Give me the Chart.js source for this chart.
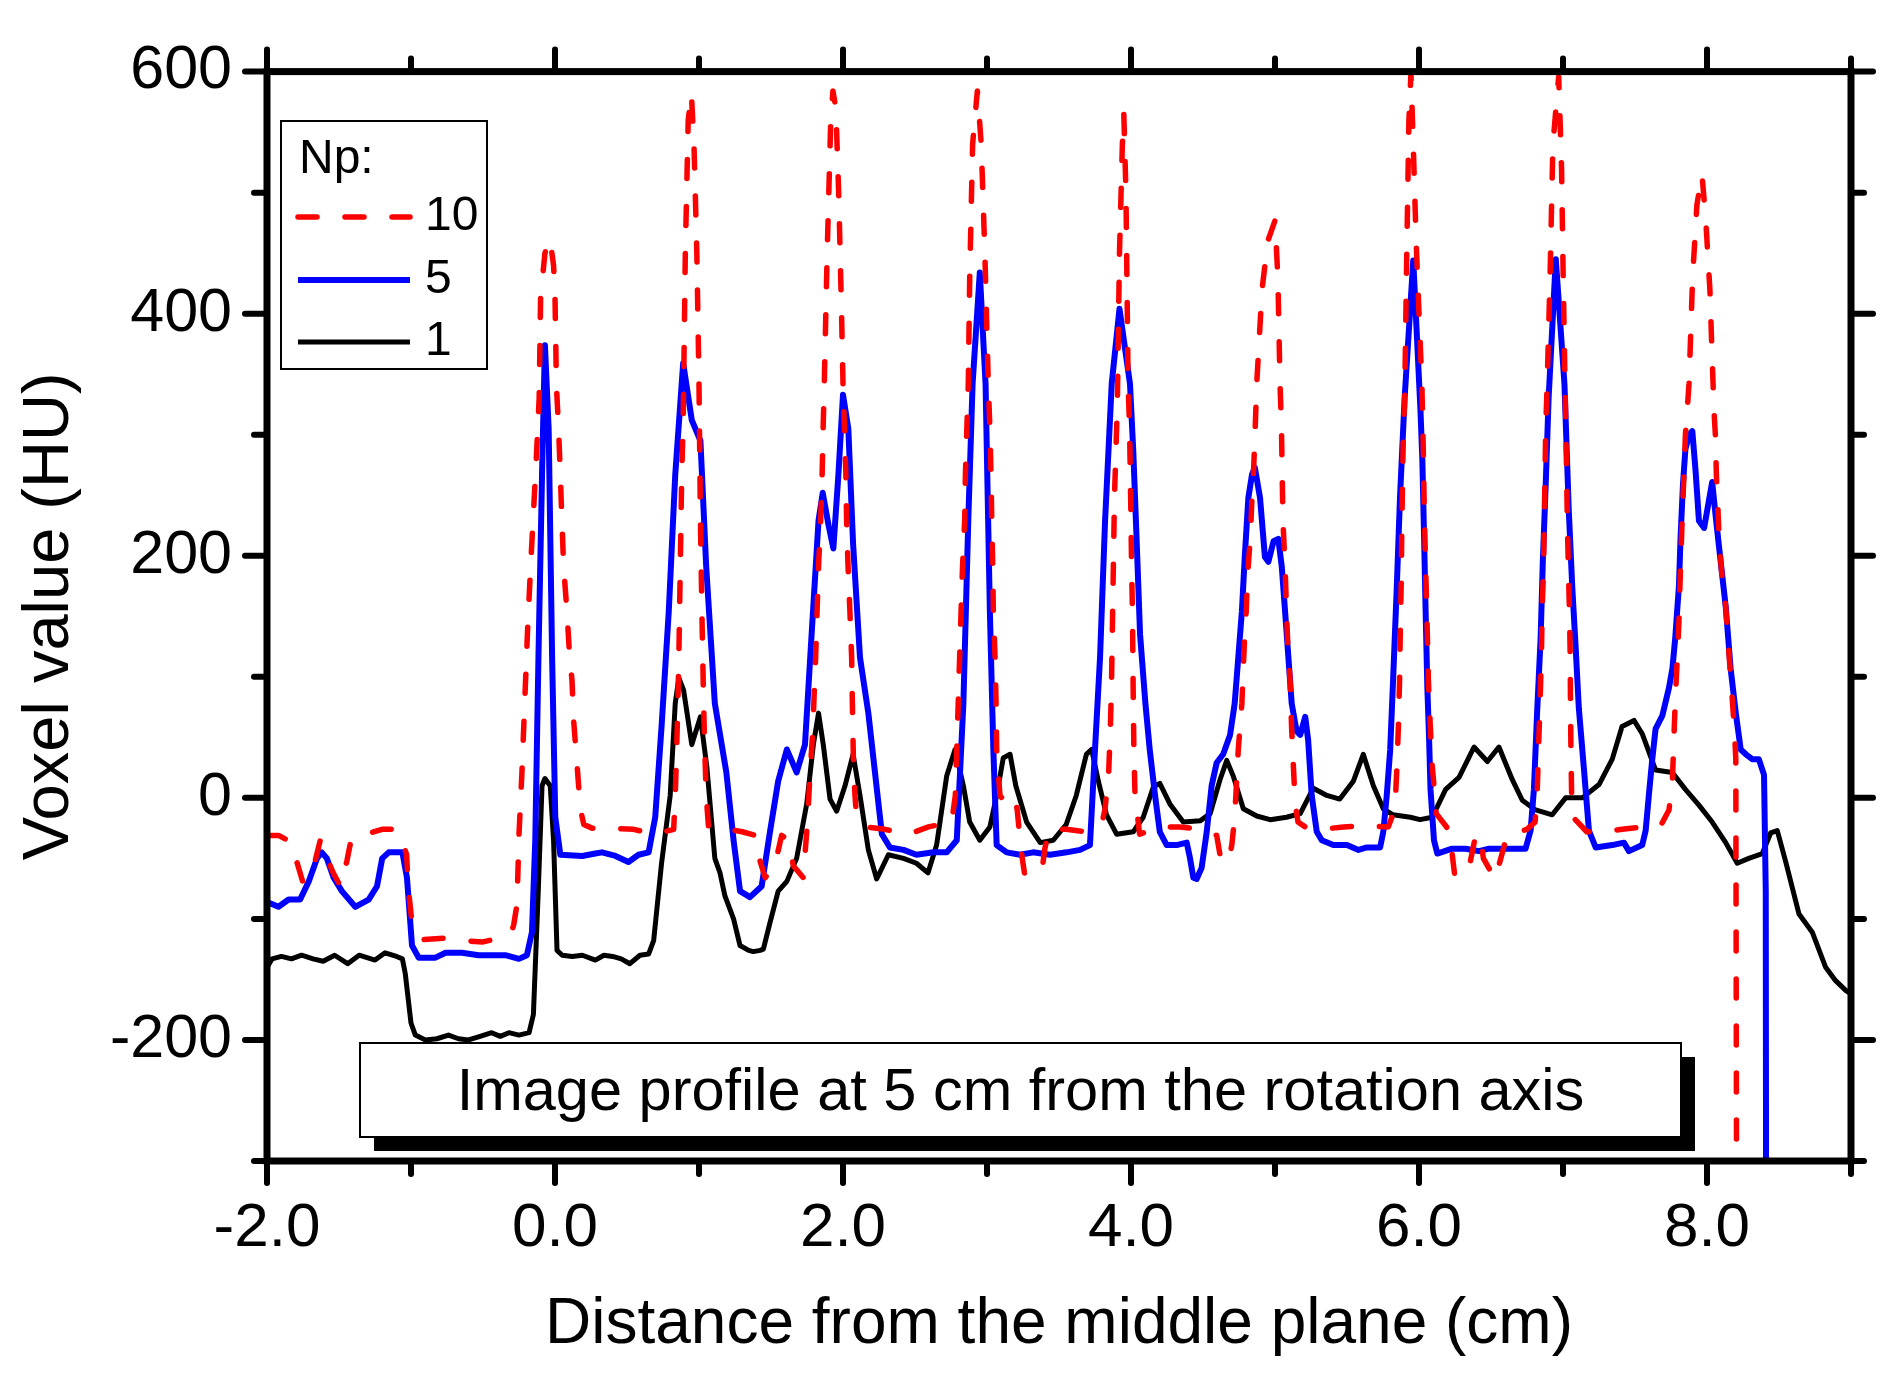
<!DOCTYPE html>
<html>
<head>
<meta charset="utf-8">
<title>Image profile at 5 cm from the rotation axis</title>
<script src="https://cdn.jsdelivr.net/npm/chart.js@4/dist/chart.umd.min.js"></script>
<style>
  html, body { margin: 0; padding: 0; background: #ffffff; }
  #wrap { width: 1901px; height: 1380px; position: relative; }
  canvas { display: block; }
</style>
</head>
<body>
<div id="wrap"><canvas id="chart" width="1901" height="1380"></canvas></div>
<script>
// ---------------- data ----------------
const xTitle = 'Distance from the middle plane (cm)';
const yTitle = 'Voxel value (HU)';
const boxText = 'Image profile at 5 cm from the rotation axis';
const legendTitle = 'Np:';
const seriesNames = ['10', '5', '1'];

const xTickValues = [-2, 0, 2, 4, 6, 8];
const xTickLabels = ['-2.0', '0.0', '2.0', '4.0', '6.0', '8.0'];
const xMinorTicks = [-1, 1, 3, 5, 7, 9];
const yTickValues = [-200, 0, 200, 400, 600];
const yTickLabels = ['-200', '0', '200', '400', '600'];
const yMinorTicks = [-300, -100, 100, 300, 500];

// Np = 10 (red dashed)
const np10X = [-2.0,-1.92,-1.84,-1.8,-1.75,-1.67,-1.63,-1.6,-1.54,-1.49,-1.445,-1.42,-1.38,-1.34,-1.2,-1.12,-1.075,-1.03,-1.02,-0.99,-0.91,-0.77,-0.635,-0.5,-0.357,-0.3,-0.287,-0.264,-0.25,-0.23,-0.21,-0.19,-0.17,-0.15,-0.13,-0.11,-0.1,-0.07,-0.035,-0.01,0.0,0.01,0.025,0.037,0.048,0.06,0.083,0.1,0.118,0.13,0.152,0.176,0.2,0.257,0.384,0.546,0.685,0.76,0.824,0.835,0.845,0.853,0.86,0.865,0.87,0.875,0.88,0.89,0.905,0.925,0.947,0.965,0.985,1.0,1.01,1.02,1.032,1.04,1.05,1.066,1.09,1.2,1.3,1.39,1.41,1.46,1.53,1.574,1.62,1.655,1.725,1.736,1.748,1.76,1.77,1.79,1.8,1.81,1.82,1.83,1.845,1.855,1.862,1.87,1.89,1.915,1.93,1.95,1.97,1.99,2.0,2.01,2.02,2.025,2.035,2.048,2.06,2.065,2.072,2.083,2.09,2.153,2.29,2.454,2.593,2.755,2.78,2.79,2.8,2.81,2.82,2.83,2.845,2.85,2.86,2.87,2.88,2.9,2.933,2.96,2.985,3.009,3.02,3.028,3.033,3.04,3.044,3.056,3.063,3.067,3.09,3.11,3.19,3.21,3.235,3.26,3.38,3.4,3.43,3.55,3.69,3.8,3.82,3.845,3.857,3.865,3.87,3.875,3.88,3.885,3.895,3.905,3.92,3.94,3.95,3.965,3.98,3.99,3.995,4.0,4.004,4.01,4.013,4.016,4.02,4.028,4.06,4.2,4.34,4.48,4.595,4.618,4.676,4.7,4.72,4.73,4.745,4.76,4.77,4.78,4.79,4.8,4.81,4.83,4.84,4.85,4.86,4.873,4.91,4.95,5.0,5.02,5.035,5.045,5.05,5.055,5.07,5.08,5.09,5.105,5.115,5.125,5.14,5.16,5.21,5.325,5.475,5.625,5.787,5.833,5.845,5.857,5.865,5.87,5.877,5.88,5.885,5.89,5.9,5.915,5.93,5.944,5.96,5.98,6.0,6.02,6.03,6.035,6.042,6.05,6.058,6.065,6.077,6.09,6.11,6.12,6.204,6.227,6.25,6.354,6.39,6.425,6.447,6.528,6.575,6.61,6.748,6.806,6.82,6.83,6.84,6.85,6.855,6.865,6.87,6.875,6.88,6.89,6.91,6.93,6.97,6.99,7.0,7.014,7.02,7.025,7.03,7.037,7.045,7.05,7.052,7.055,7.06,7.07,7.165,7.28,7.41,7.55,7.678,7.736,7.76,7.77,7.78,7.794,7.805,7.812,7.82,7.83,7.84,7.85,7.863,7.875,7.9,7.93,7.965,7.99,8.02,8.048,8.058,8.065,8.075,8.083,8.095,8.11,8.13,8.14,8.152,8.165,8.175,8.19,8.2,8.205];
const np10Y = [-31,-31,-36,-50,-70,-54,-35,-45,-62,-73,-52,-37,-31,-31,-26,-26,-30,-47,-73,-107,-117,-116,-118,-119,-115,-110,-105,-88,-30,20,80,140,190,235,280,330,414,450,462,440,414,340,305,267,229,191,154,120,97,63,29,-9,-22,-25,-25,-26,-30,-28,-26,2,40,78,116,154,191,229,267,310,450,560,582,540,450,342,229,154,78,40,2,-24,-24,-26,-28,-31,-47,-66,-54,-31,-35,-56,-66,-47,-28,-5,18,55,86,116,154,191,229,267,305,342,450,560,584,570,500,400,342,305,267,229,191,154,116,78,33,2,-9,-24,-26,-30,-24,-20,2,40,78,116,154,191,229,267,305,342,430,540,584,540,450,342,305,267,229,191,154,116,78,40,2,-1,3,-10,-42,-62,-62,-43,-26,-26,-28,-20,-9,21,59,97,135,172,210,248,286,324,450,540,565,500,342,305,267,229,191,154,116,78,40,2,-30,-24,-24,-26,-31,-47,-54,-39,-16,6,40,63,78,108,135,154,184,218,248,267,297,342,420,460,477,430,342,305,267,229,191,154,123,97,59,33,-5,-20,-24,-26,-24,-23,-24,-9,21,59,97,138,180,218,256,293,327,450,560,599,540,460,400,342,286,248,210,172,135,97,63,29,2,-13,-26,-43,-66,-54,-33,-30,-50,-67,-47,-31,-26,-20,2,40,78,116,154,191,229,267,305,342,430,540,596,520,440,342,305,267,229,191,154,116,78,40,2,-16,-28,-28,-26,-24,-23,-10,15,49,82,116,145,175,204,238,267,300,321,342,430,490,515,480,420,321,300,267,242,217,196,175,158,141,120,99,82,57,32,-300];

// Np = 5 (blue solid)
const np5X = [-2.0,-1.92,-1.85,-1.77,-1.71,-1.653,-1.62,-1.584,-1.537,-1.48,-1.387,-1.294,-1.236,-1.2,-1.155,-1.06,-1.028,-0.993,-0.947,-0.83,-0.76,-0.646,-0.53,-0.345,-0.25,-0.195,-0.16,-0.137,-0.115,-0.09,-0.07,-0.044,-0.02,0.002,0.037,0.19,0.28,0.326,0.42,0.51,0.58,0.65,0.696,0.74,0.79,0.835,0.89,0.95,1.01,1.05,1.11,1.19,1.24,1.285,1.354,1.435,1.493,1.55,1.61,1.678,1.736,1.782,1.83,1.859,1.9,1.933,1.968,2.0,2.037,2.07,2.118,2.176,2.222,2.27,2.326,2.42,2.51,2.627,2.72,2.79,2.836,2.87,2.9,2.95,2.99,3.02,3.044,3.067,3.137,3.23,3.32,3.437,3.553,3.646,3.715,3.75,3.785,3.82,3.866,3.92,3.993,4.016,4.04,4.063,4.1,4.13,4.167,4.2,4.248,4.317,4.387,4.41,4.433,4.456,4.49,4.526,4.56,4.595,4.64,4.688,4.72,4.745,4.77,4.79,4.815,4.84,4.86,4.896,4.93,4.954,4.99,5.023,5.047,5.07,5.093,5.116,5.15,5.175,5.21,5.23,5.255,5.29,5.325,5.405,5.5,5.58,5.637,5.73,5.752,5.776,5.8,5.82,5.845,5.868,5.9,5.96,6.01,6.023,6.035,6.046,6.058,6.07,6.08,6.104,6.127,6.23,6.324,6.416,6.486,6.6,6.74,6.775,6.798,6.82,6.845,6.86,6.88,6.9,6.95,7.01,7.04,7.064,7.088,7.11,7.146,7.18,7.227,7.342,7.423,7.458,7.55,7.574,7.6,7.62,7.643,7.69,7.736,7.76,7.78,7.805,7.817,7.833,7.85,7.875,7.898,7.92,7.944,7.98,8.014,8.036,8.06,8.083,8.13,8.164,8.2,8.234,8.27,8.314,8.36,8.396,8.408,8.41];
const np5Y = [-86,-90,-84,-84,-69,-50,-45,-50,-66,-77,-90,-84,-73,-50,-45,-45,-66,-122,-132,-132,-128,-128,-130,-130,-133,-130,-111,-35,116,267,374,305,116,-16,-47,-48,-46,-45,-48,-53,-47,-45,-16,59,154,267,359,312,295,191,78,21,-35,-77,-82,-73,-28,14,40,21,44,135,229,252,225,206,267,333,305,210,116,70,21,-30,-41,-43,-47,-45,-45,-35,78,229,342,434,342,154,40,-39,-45,-47,-45,-47,-45,-43,-39,40,116,229,342,404,342,286,210,135,78,40,2,-28,-39,-39,-37,-50,-66,-67,-58,-28,10,29,36,52,78,116,154,199,248,267,273,248,199,195,212,214,191,154,116,78,55,52,67,48,2,-28,-35,-39,-39,-43,-41,-41,-28,2,40,97,172,248,330,444,321,280,217,154,91,49,7,-35,-46,-42,-42,-44,-42,-42,-42,-27,7,70,133,196,259,330,445,342,238,175,124,74,23,-27,-41,-39,-37,-44,-39,-27,7,32,57,68,91,107,133,175,217,259,288,300,303,271,229,223,246,261,233,208,158,107,70,40,36,32,32,19,-77,-300];

// Np = 1 (black solid)
const np1X = [-2.0,-1.965,-1.9,-1.83,-1.76,-1.68,-1.61,-1.53,-1.44,-1.36,-1.25,-1.18,-1.1,-1.06,-1.04,-1.0,-0.97,-0.9,-0.82,-0.74,-0.67,-0.6,-0.52,-0.44,-0.38,-0.32,-0.25,-0.18,-0.15,-0.115,-0.09,-0.07,-0.033,-0.01,0.014,0.05,0.12,0.19,0.28,0.34,0.4,0.46,0.52,0.59,0.65,0.685,0.74,0.8,0.835,0.86,0.893,0.95,1.01,1.055,1.11,1.146,1.18,1.24,1.285,1.345,1.377,1.425,1.447,1.493,1.55,1.61,1.678,1.748,1.794,1.83,1.863,1.91,1.956,2.014,2.07,2.118,2.176,2.234,2.315,2.42,2.51,2.59,2.65,2.72,2.778,2.836,2.88,2.95,3.02,3.067,3.113,3.16,3.2,3.275,3.37,3.46,3.55,3.62,3.69,3.727,3.773,3.83,3.9,4.016,4.085,4.155,4.2,4.27,4.363,4.48,4.55,4.618,4.665,4.71,4.78,4.873,4.966,5.08,5.175,5.266,5.36,5.45,5.545,5.613,5.683,5.752,5.82,5.94,6.007,6.092,6.185,6.278,6.382,6.475,6.555,6.648,6.717,6.81,6.925,7.018,7.134,7.25,7.342,7.41,7.493,7.55,7.643,7.759,7.85,7.944,8.036,8.13,8.21,8.29,8.384,8.442,8.488,8.545,8.639,8.731,8.824,8.893,8.963,9.0];
const np1Y = [-140,-133,-131,-133,-130,-133,-135,-130,-137,-130,-134,-128,-131,-133,-145,-186,-196,-200,-199,-196,-199,-200,-197,-194,-197,-194,-196,-194,-179,-73,10,16,10,-35,-126,-130,-131,-130,-134,-130,-131,-133,-137,-130,-129,-118,-54,2,78,99,89,44,67,25,-50,-62,-81,-100,-122,-126,-127,-126,-125,-103,-77,-69,-50,-5,44,70,44,-1,-11,10,36,2,-43,-67,-47,-50,-54,-62,-39,18,40,10,-20,-35,-24,2,33,36,10,-20,-37,-35,-22,2,36,40,14,-14,-30,-28,-16,9,12,-5,-20,-19,-13,15,31,18,-9,-15,-18,-16,-13,8,2,-1,14,36,10,-9,-14,-16,-18,-16,7,17,42,30,42,15,-2,-10,-14,0,0,11,32,59,64,53,23,21,7,-6,-20,-37,-54,-50,-46,-29,-27,-52,-96,-111,-140,-151,-159,-162];

// ---------------- chart ----------------
const FONT = "'Liberation Sans', Arial, Helvetica, sans-serif";
const toPoints = (xs, ys) => xs.map((x, i) => ({ x: x, y: ys[i] }));

const decorPlugin = {
  id: 'decor',
  afterDraw(chart) {
    const ctx = chart.ctx;
    const xs = chart.scales.x, ys = chart.scales.y;
    const a = chart.chartArea;
    ctx.save();
    ctx.strokeStyle = '#000';
    ctx.fillStyle = '#000';

    // frame
    ctx.lineWidth = 7;
    ctx.lineCap = 'square';
    ctx.strokeRect(a.left, a.top, a.right - a.left, a.bottom - a.top);

    // tick marks (outward, all four sides)
    ctx.lineWidth = 6;
    ctx.lineCap = 'round';
    const tick = (x1, y1, x2, y2) => { ctx.beginPath(); ctx.moveTo(x1, y1); ctx.lineTo(x2, y2); ctx.stroke(); };
    const MAJ = 22, MIN = 13;
    xTickValues.forEach(v => { const p = xs.getPixelForValue(v); tick(p, a.bottom, p, a.bottom + MAJ); tick(p, a.top, p, a.top - MAJ); });
    xMinorTicks.forEach(v => { const p = xs.getPixelForValue(v); tick(p, a.bottom, p, a.bottom + MIN); tick(p, a.top, p, a.top - MIN); });
    yTickValues.forEach(v => { const p = ys.getPixelForValue(v); tick(a.left, p, a.left - MAJ, p); tick(a.right, p, a.right + MAJ, p); });
    yMinorTicks.forEach(v => { const p = ys.getPixelForValue(v); tick(a.left, p, a.left - MIN, p); tick(a.right, p, a.right + MIN, p); });

    // legend
    ctx.lineCap = 'butt';
    ctx.lineWidth = 2;
    ctx.fillStyle = '#fff';
    ctx.fillRect(281, 121, 206, 248);
    ctx.strokeStyle = '#000';
    ctx.strokeRect(281, 121, 206, 248);
    ctx.fillStyle = '#000';
    ctx.font = '48px ' + FONT;
    ctx.textAlign = 'left';
    ctx.textBaseline = 'alphabetic';
    ctx.fillText(legendTitle, 299, 173);
    const ds = chart.data.datasets;
    const rowsY = [217, 280, 342];
    ds.forEach((d, i) => {
      ctx.save();
      ctx.strokeStyle = d.borderColor;
      ctx.lineWidth = d.borderWidth;
      ctx.lineCap = d.borderCapStyle || 'butt';
      ctx.setLineDash(d.borderDash || []);
      ctx.beginPath();
      ctx.moveTo(298, rowsY[i]);
      ctx.lineTo(410, rowsY[i]);
      ctx.stroke();
      ctx.restore();
      ctx.textBaseline = 'middle';
      ctx.fillText(seriesNames[i], 425, rowsY[i]);
    });

    // annotation box with shadow
    const bx = 360, by = 1043, bw = 1321, bh = 94, sh = 14;
    ctx.fillStyle = '#000';
    ctx.fillRect(bx + sh, by + sh, bw, bh);
    ctx.fillStyle = '#fff';
    ctx.fillRect(bx, by, bw, bh);
    ctx.lineWidth = 2;
    ctx.strokeRect(bx, by, bw, bh);
    ctx.fillStyle = '#000';
    ctx.font = '59.5px ' + FONT;
    ctx.textAlign = 'center';
    ctx.textBaseline = 'middle';
    ctx.fillText(boxText, bx + bw / 2, by + bh / 2 + 4);
    ctx.restore();
  }
};

const ctx = document.getElementById('chart').getContext('2d');
new Chart(ctx, {
  type: 'line',
  data: {
    datasets: [
      { label: seriesNames[0], data: toPoints(np10X, np10Y), borderColor: '#ff0000', borderWidth: 5.5, borderDash: [19, 28], borderCapStyle: 'round', borderJoinStyle: 'round' },
      { label: seriesNames[1], data: toPoints(np5X, np5Y), borderColor: '#0000ff', borderWidth: 6, borderCapStyle: 'butt', borderJoinStyle: 'round' },
      { label: seriesNames[2], data: toPoints(np1X, np1Y), borderColor: '#000000', borderWidth: 5, borderCapStyle: 'butt', borderJoinStyle: 'round' }
    ]
  },
  options: {
    responsive: false,
    animation: false,
    devicePixelRatio: 1,
    layout: { padding: { left: 0, top: 67, right: 50, bottom: 0 } },
    elements: { point: { radius: 0, hoverRadius: 0 }, line: { tension: 0, fill: false } },
    plugins: { legend: { display: false }, tooltip: { enabled: false }, title: { display: false } },
    events: [],
    scales: {
      x: {
        type: 'linear', position: 'bottom', min: -2, max: 9,
        afterFit: s => { s.height = 219; },
        afterBuildTicks: s => { s.ticks = xTickValues.map(v => ({ value: v })); },
        grid: { display: false, drawTicks: false },
        border: { display: false },
        ticks: {
          autoSkip: false, maxRotation: 0, padding: 31, color: '#000',
          font: { family: FONT, size: 62 },
          callback: (v) => { const i = xTickValues.indexOf(v); return i >= 0 ? xTickLabels[i] : ''; }
        },
        title: { display: true, text: xTitle, color: '#000', font: { family: FONT, size: 64 }, padding: { top: 0, bottom: 16 } }
      },
      y: {
        type: 'linear', position: 'left', min: -300, max: 600,
        afterFit: s => { s.width = 267; },
        afterBuildTicks: s => { s.ticks = yTickValues.map(v => ({ value: v })); },
        grid: { display: false, drawTicks: false },
        border: { display: false },
        ticks: {
          autoSkip: false, padding: 35, color: '#000',
          font: { family: FONT, size: 61 },
          callback: (v) => { const i = yTickValues.indexOf(v); return i >= 0 ? yTickLabels[i] : ''; }
        },
        title: { display: true, text: yTitle, color: '#000', font: { family: FONT, size: 65 }, padding: { top: 11, bottom: 0 } }
      }
    }
  },
  plugins: [decorPlugin]
});
</script>
</body>
</html>
